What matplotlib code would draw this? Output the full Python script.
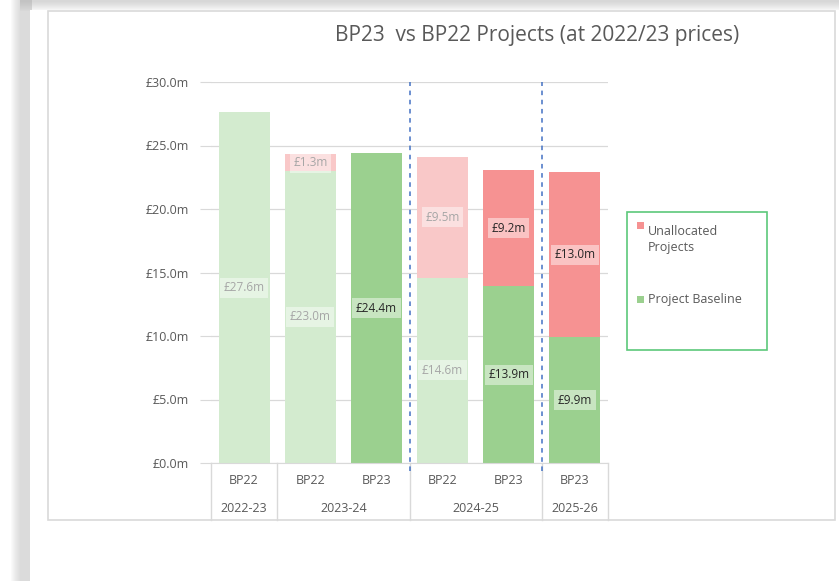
import matplotlib
matplotlib.use("Agg")
import matplotlib.pyplot as plt
from matplotlib import font_manager
from matplotlib.patches import Rectangle
from matplotlib.transforms import blended_transform_factory

# data
plans = ["BP22", "BP22", "BP23", "BP22", "BP23", "BP23"]
years = ["2022-23", "2023-24", "2024-25", "2025-26"]
year_spans = [(0, 0), (1, 2), (3, 4), (5, 5)]
baseline = [27.6, 23.0, 24.4, 14.6, 13.9, 9.9]
unallocated = [0.0, 1.3, 0.0, 9.5, 9.2, 13.0]
yticks = [0, 5, 10, 15, 20, 25, 30]

names = {f.name for f in font_manager.fontManager.ttflist}
fam = "Liberation Sans Narrow" if "Liberation Sans Narrow" in names else "Open Sans"
plt.rcParams['font.family'] = [fam, 'DejaVu Sans']

W, H = 839, 581
fig = plt.figure(figsize=(W / 100, H / 100), dpi=100)
fig.patch.set_facecolor('white')

# background / frame layer in pixel coordinates
bg = fig.add_axes([0, 0, 1, 1], zorder=0)
bg.set_xlim(0, W)
bg.set_ylim(H, 0)
bg.axis('off')
for i in range(10):
    bg.add_patch(Rectangle((20 - i, 0), 12 + i, H, color='#b0b0b0', alpha=0.05, lw=0))
    bg.add_patch(Rectangle((20, 0), W, 11 - i, color='#b0b0b0', alpha=0.06, lw=0))
bg.add_patch(Rectangle((30, 10), W - 30, H - 10, facecolor='white', edgecolor='none'))
bg.add_patch(Rectangle((48, 11), 787, 509, facecolor='white', edgecolor='#d9d9d9', lw=1.2))

# legend box
bg.add_patch(Rectangle((627, 212), 140, 138, facecolor='white', edgecolor='#5cc87a', lw=1.2))
bg.add_patch(Rectangle((637, 222), 7, 7, color='#f69292', lw=0))
bg.text(648, 225, "Unallocated\nProjects", fontsize=9, color='#595959', va='top', ha='left',
        linespacing=1.3)
bg.add_patch(Rectangle((637, 296), 7, 7, color='#9bd08f', lw=0))
bg.text(648, 299.5, "Project Baseline", fontsize=9, color='#595959', va='center', ha='left')

fig.text(537 / W, 1 - 35 / H, "BP23  vs BP22 Projects (at 2022/23 prices)", fontsize=15,
         color='#595959', ha='center', va='center')

# main chart
ax = fig.add_axes([211 / W, (H - 463) / H, 397 / W, 381 / H], zorder=1)
ax.patch.set_alpha(0)
x = list(range(len(plans)))
bw = 0.77
for i in x:
    bp23 = plans[i] == "BP23"
    gcol = '#9bd08f' if bp23 else '#d3ebcf'
    rcol = '#f69292' if bp23 else '#f9c8c8'
    tcol = '#262626' if bp23 else '#a6a6a6'
    ax.bar(i, baseline[i], bw, color=gcol, zorder=2)
    lbl = dict(boxstyle='square,pad=0.3', fc='white', ec='none', alpha=0.45)
    ax.text(i, baseline[i] / 2, f"£{baseline[i]:.1f}m", ha='center', va='center', fontsize=8.5,
            color=tcol, bbox=lbl, zorder=4)
    if unallocated[i] > 0:
        ax.bar(i, unallocated[i], bw, bottom=baseline[i], color=rcol, zorder=2)
        ax.text(i, baseline[i] + unallocated[i] / 2, f"£{unallocated[i]:.1f}m", ha='center',
                va='center', fontsize=8.5, color=tcol, bbox=lbl, zorder=4)

ax.set_xlim(-0.5, len(plans) - 0.5)
ax.set_ylim(0, 30)
ax.set_yticks(yticks)
ax.set_yticklabels([f"£{v:.1f}m" for v in yticks])
ax.tick_params(axis='y', length=8, width=0.8, color='#d9d9d9', labelcolor='#595959',
               labelsize=9, pad=8)
ax.set_xticks([])
ax.grid(axis='y', color='#d9d9d9', lw=0.9, zorder=0)
ax.set_axisbelow(True)
for s in ['top', 'right', 'left']:
    ax.spines[s].set_visible(False)
ax.spines['bottom'].set_color('#d9d9d9')

# dashed separators before 2024-25 and 2025-26
for a, b in year_spans[2:]:
    ax.axvline(a - 0.5, ymin=-0.02, ymax=1, color='#4472c4', ls=(0, (3, 3)), lw=1.1,
               zorder=3, clip_on=False)

# category table under the axis
tr = blended_transform_factory(ax.transData, ax.transAxes)
ybot = -57 / 381
edges = [-0.5] + [b + 0.5 for a, b in year_spans]
for e in edges:
    ax.plot([e, e], [0, ybot], color='#d9d9d9', lw=1, transform=tr, clip_on=False)
for i in x:
    ax.text(i, -18 / 381, plans[i], transform=tr, ha='center', va='center', fontsize=9,
            color='#595959')
for yr, (a, b) in zip(years, year_spans):
    ax.text((a + b) / 2, -46 / 381, yr, transform=tr, ha='center', va='center', fontsize=9,
            color='#595959')

fig.savefig('out.png', dpi=100)
